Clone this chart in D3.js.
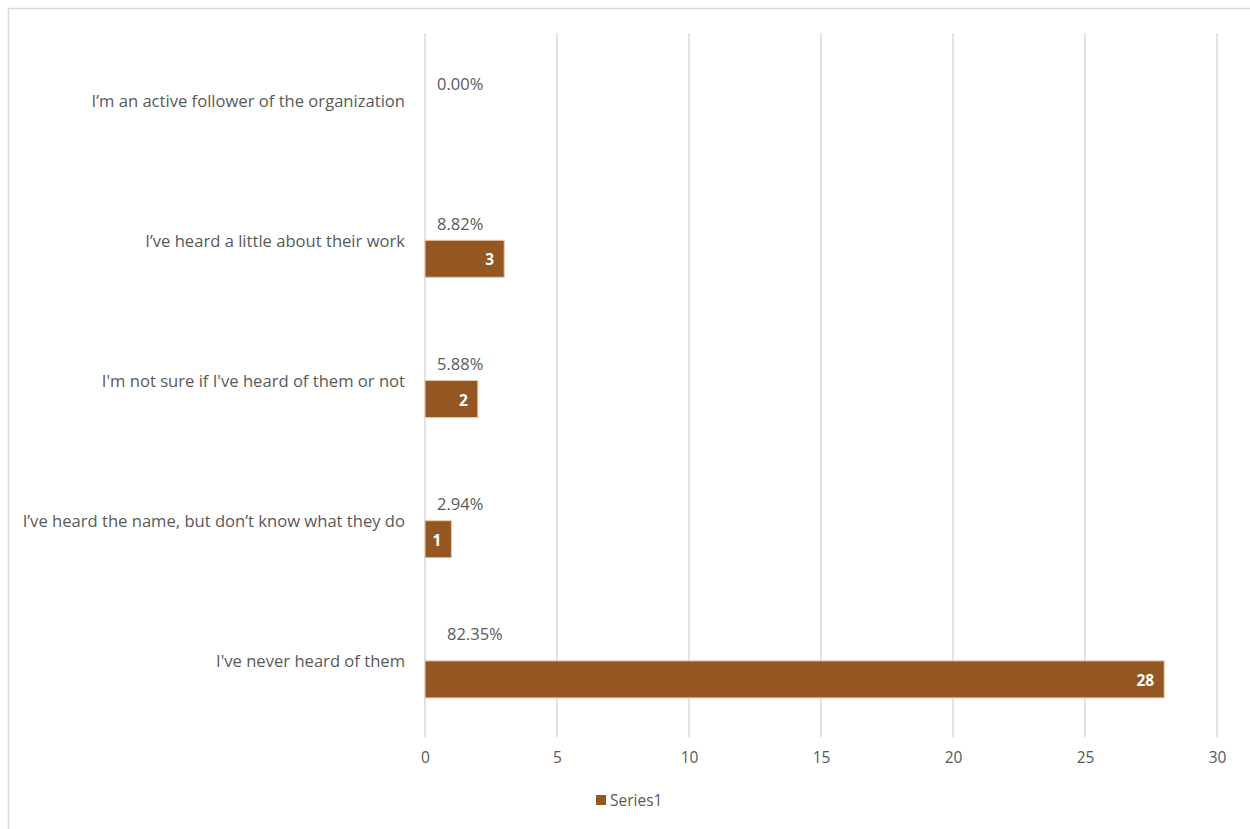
<!DOCTYPE html>
<html><head><meta charset="utf-8">
<script src="https://cdn.jsdelivr.net/npm/d3@7"></script>
<style>body{margin:0;background:#fff;} text{font-family:"Open Sans",Roboto,sans-serif;}</style>
</head><body><svg id="c" width="1250" height="829"></svg>
<script>
const categories = [
  "I’m an active follower of the organization",
  "I’ve heard a little about their work",
  "I'm not sure if I've heard of them or not",
  "I’ve heard the name, but don’t know what they do",
  "I've never heard of them"
];
const counts = [0, 3, 2, 1, 28];
const percentLabels = ["0.00%", "8.82%", "5.88%", "2.94%", "82.35%"];
const xTicks = [0, 5, 10, 15, 20, 25, 30];
const seriesName = "Series1";

const svg = d3.select("#c");
const color = "#955722";
const textCol = "#595959";
const m = {left: 425, right: 1217, top: 30, bottom: 731};

svg.append("rect").attr("x",8.5).attr("y",8.5).attr("width",1260).attr("height",840)
  .attr("fill","none").attr("stroke","#d9d9d9").attr("stroke-width",1.5);

const x = d3.scaleLinear().domain([0,30]).range([m.left, m.right]);
const y = d3.scaleBand().domain(categories).range([m.top, m.bottom]);

// gridlines
svg.append("g").selectAll("line").data(xTicks).join("line")
  .attr("x1", d=>x(d)).attr("x2", d=>x(d))
  .attr("y1", 33).attr("y2", 737)
  .attr("stroke", "#d9d9d9").attr("stroke-width", 1.5);

// x axis labels
const xAxis = d3.axisBottom(x).tickValues(xTicks).tickSize(0).tickPadding(0);
const gx = svg.append("g").attr("transform", `translate(0,${752})`).call(xAxis);
gx.select(".domain").remove();
gx.selectAll("text").attr("fill", textCol).attr("font-size", 15.5).attr("dy","0.71em")
  .style("font-family", '"Open Sans",Roboto,sans-serif');

// category labels
svg.append("g").selectAll("text").data(categories).join("text")
  .attr("x", 405).attr("y", d=>y(d)+y.bandwidth()/2)
  .attr("text-anchor","end").attr("dominant-baseline","central")
  .attr("fill", textCol).attr("font-size", 16.6).text(d=>d);

const data = categories.map((c,i)=>({c, v: counts[i], p: percentLabels[i], i}));

// bars
svg.append("g").selectAll("rect").data(data.filter(d=>d.v>0)).join("rect")
  .attr("x", x(0)).attr("y", d=>y(d.c)+y.bandwidth()/2)
  .attr("width", d=>x(d.v)-x(0)).attr("height", 37)
  .attr("fill", color).attr("stroke","#e8c9ad").attr("stroke-width",1);

// value labels
svg.append("g").selectAll("text").data(data.filter(d=>d.v>0)).join("text")
  .attr("x", d=>x(d.v)-10).attr("y", d=>y(d.c)+y.bandwidth()/2+19)
  .attr("text-anchor","end").attr("dominant-baseline","central")
  .attr("fill","#fff").attr("font-weight","bold").attr("font-size",15.5).text(d=>d.v);

// percent labels
svg.append("g").selectAll("text").data(data).join("text")
  .attr("x", d=> d.i===4 ? x(0)+22 : x(0)+12)
  .attr("y", d=>y(d.c)+y.bandwidth()/2 - (d.i===4 ? 27 : 17))
  .attr("dominant-baseline","central")
  .attr("fill", textCol).attr("font-size", 16.5).text(d=>d.p);

// legend
svg.append("rect").attr("x",596).attr("y",795).attr("width",10).attr("height",10).attr("fill",color);
svg.append("text").attr("x",610).attr("y",800).attr("dominant-baseline","central")
  .attr("fill",textCol).attr("font-size",15.5).text(seriesName);
</script></body></html>
